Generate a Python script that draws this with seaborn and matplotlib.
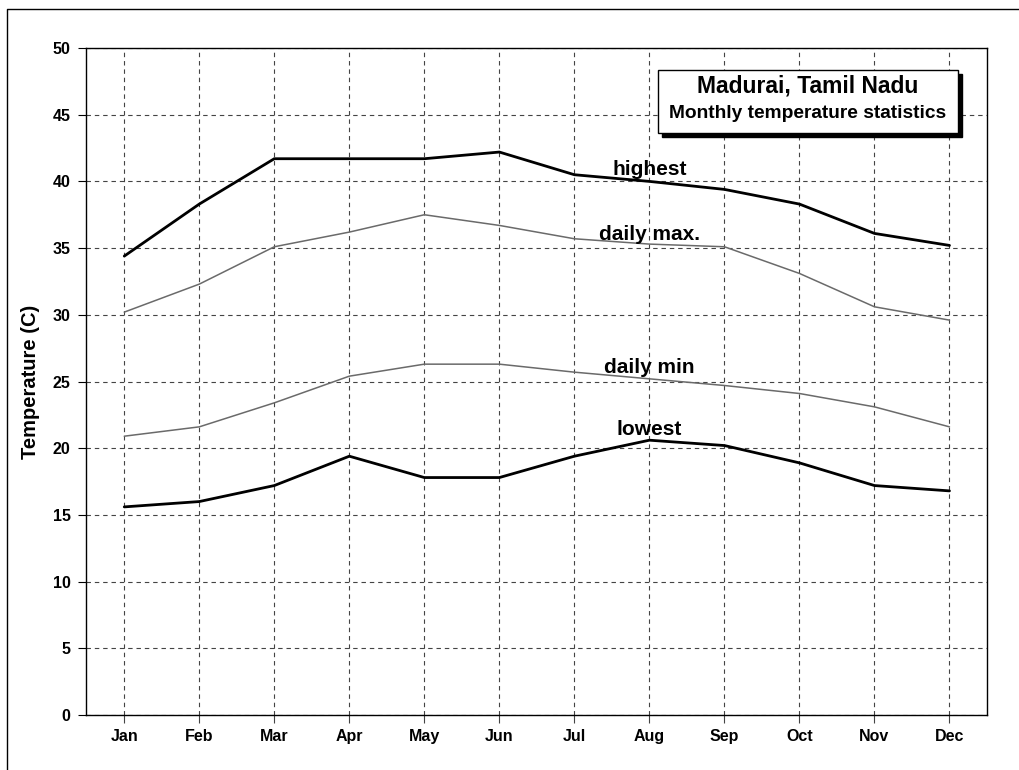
import matplotlib
matplotlib.use("Agg")
import matplotlib.pyplot as plt
from matplotlib.patches import Rectangle
from matplotlib.lines import Line2D
import seaborn as sns
import pandas as pd

# ---- data ----
months = ["Jan", "Feb", "Mar", "Apr", "May", "Jun",
          "Jul", "Aug", "Sep", "Oct", "Nov", "Dec"]
highest = [34.4, 38.3, 41.7, 41.7, 41.7, 42.2, 40.5, 40.0, 39.4, 38.3, 36.1, 35.2]
daily_max = [30.2, 32.3, 35.1, 36.2, 37.5, 36.7, 35.7, 35.3, 35.1, 33.1, 30.6, 29.6]
daily_min = [20.9, 21.6, 23.4, 25.4, 26.3, 26.3, 25.7, 25.2, 24.7, 24.1, 23.1, 21.6]
lowest = [15.6, 16.0, 17.2, 19.4, 17.8, 17.8, 19.4, 20.6, 20.2, 18.9, 17.2, 16.8]
series_labels = ["highest", "daily max.", "daily min", "lowest"]
yticks = [0, 5, 10, 15, 20, 25, 30, 35, 40, 45, 50]
title_line1 = "Madurai, Tamil Nadu"
title_line2 = "Monthly temperature statistics"
ylabel = "Temperature (C)"

df = pd.DataFrame({"month": months, "highest": highest, "daily max.": daily_max,
                   "daily min": daily_min, "lowest": lowest})

sns.set_style("white")
plt.rcParams["font.family"] = ["Liberation Sans", "DejaVu Sans"]
plt.rcParams["text.color"] = "black"
plt.rcParams["axes.labelcolor"] = "black"
plt.rcParams["xtick.color"] = "black"
plt.rcParams["ytick.color"] = "black"

W, H = 1020, 770
fig = plt.figure(figsize=(W / 100, H / 100), dpi=100)
ax = fig.add_axes([86 / W, 1 - 715 / H, 901 / W, 667 / H])

styles = {
    "highest": dict(color="black", linewidth=2.0),
    "daily max.": dict(color="#6a6a6a", linewidth=1.1),
    "daily min": dict(color="#6a6a6a", linewidth=1.1),
    "lowest": dict(color="black", linewidth=2.0),
}
for name in series_labels:
    sns.lineplot(data=df, x="month", y=name, ax=ax, sort=False, zorder=3,
                 **styles[name])

# series labels (baseline positions, centred over Aug)
label_pos = {"highest": 40.5, "daily max.": 35.6, "daily min": 25.6, "lowest": 21.0}
for name in series_labels:
    ax.text(7, label_pos[name], name, ha="center", va="baseline",
            fontsize=15, fontweight="bold", color="black", zorder=4)

ax.set_xlim(-0.51, 11.5)
ax.set_ylim(0, 50)
ax.set_yticks(yticks)
ax.set_xticks(range(len(months)))
ax.set_xticklabels(months)
ax.set_xlabel("")
ax.set_ylabel(ylabel, fontsize=14.5, fontweight="bold", color="black")
ax.yaxis.set_label_coords(-0.051, 0.5)

ax.grid(True, color="#444444", linestyle=(0, (4, 3.5)), linewidth=0.8)
ax.set_axisbelow(True)
for sp in ax.spines.values():
    sp.set_visible(True)
    sp.set_color("black")
    sp.set_linewidth(1.0)

ax.tick_params(axis="y", which="major", direction="out", length=6, width=0.8,
               color="black", labelcolor="black", pad=5, left=True, labelsize=11.5)
ax.tick_params(axis="x", which="major", direction="out", length=6, width=0.8,
               color="#444444", labelcolor="black", pad=4, bottom=True,
               labelsize=11.5)
for lbl in ax.get_xticklabels() + ax.get_yticklabels():
    lbl.set_fontweight("bold")

# title box with shadow
bx0, by0, bx1, by1 = 658, 70, 958, 133
fig.patches.append(Rectangle(((bx0 + 4) / W, 1 - (by1 + 4) / H), (bx1 - bx0) / W,
                             (by1 - by0) / H, transform=fig.transFigure,
                             facecolor="black", edgecolor="black", zorder=5))
fig.patches.append(Rectangle((bx0 / W, 1 - by1 / H), (bx1 - bx0) / W,
                             (by1 - by0) / H, transform=fig.transFigure,
                             facecolor="white", edgecolor="black", linewidth=1.0,
                             zorder=6))
fig.text((bx0 + bx1) / 2 / W, 1 - 86 / H, title_line1, ha="center", va="center",
         fontsize=16.5, fontweight="bold", color="black", zorder=7)
fig.text((bx0 + bx1) / 2 / W, 1 - 113 / H, title_line2, ha="center", va="center",
         fontsize=13.8, fontweight="bold", color="black", zorder=7)

# figure border (top and left)
fig.lines.append(Line2D([7.5 / W, 7.5 / W, 1.0], [0.0, 1 - 8.5 / H, 1 - 8.5 / H],
                        transform=fig.transFigure, color="black", linewidth=1.0))

fig.savefig("out.png", dpi=100, facecolor="white")
